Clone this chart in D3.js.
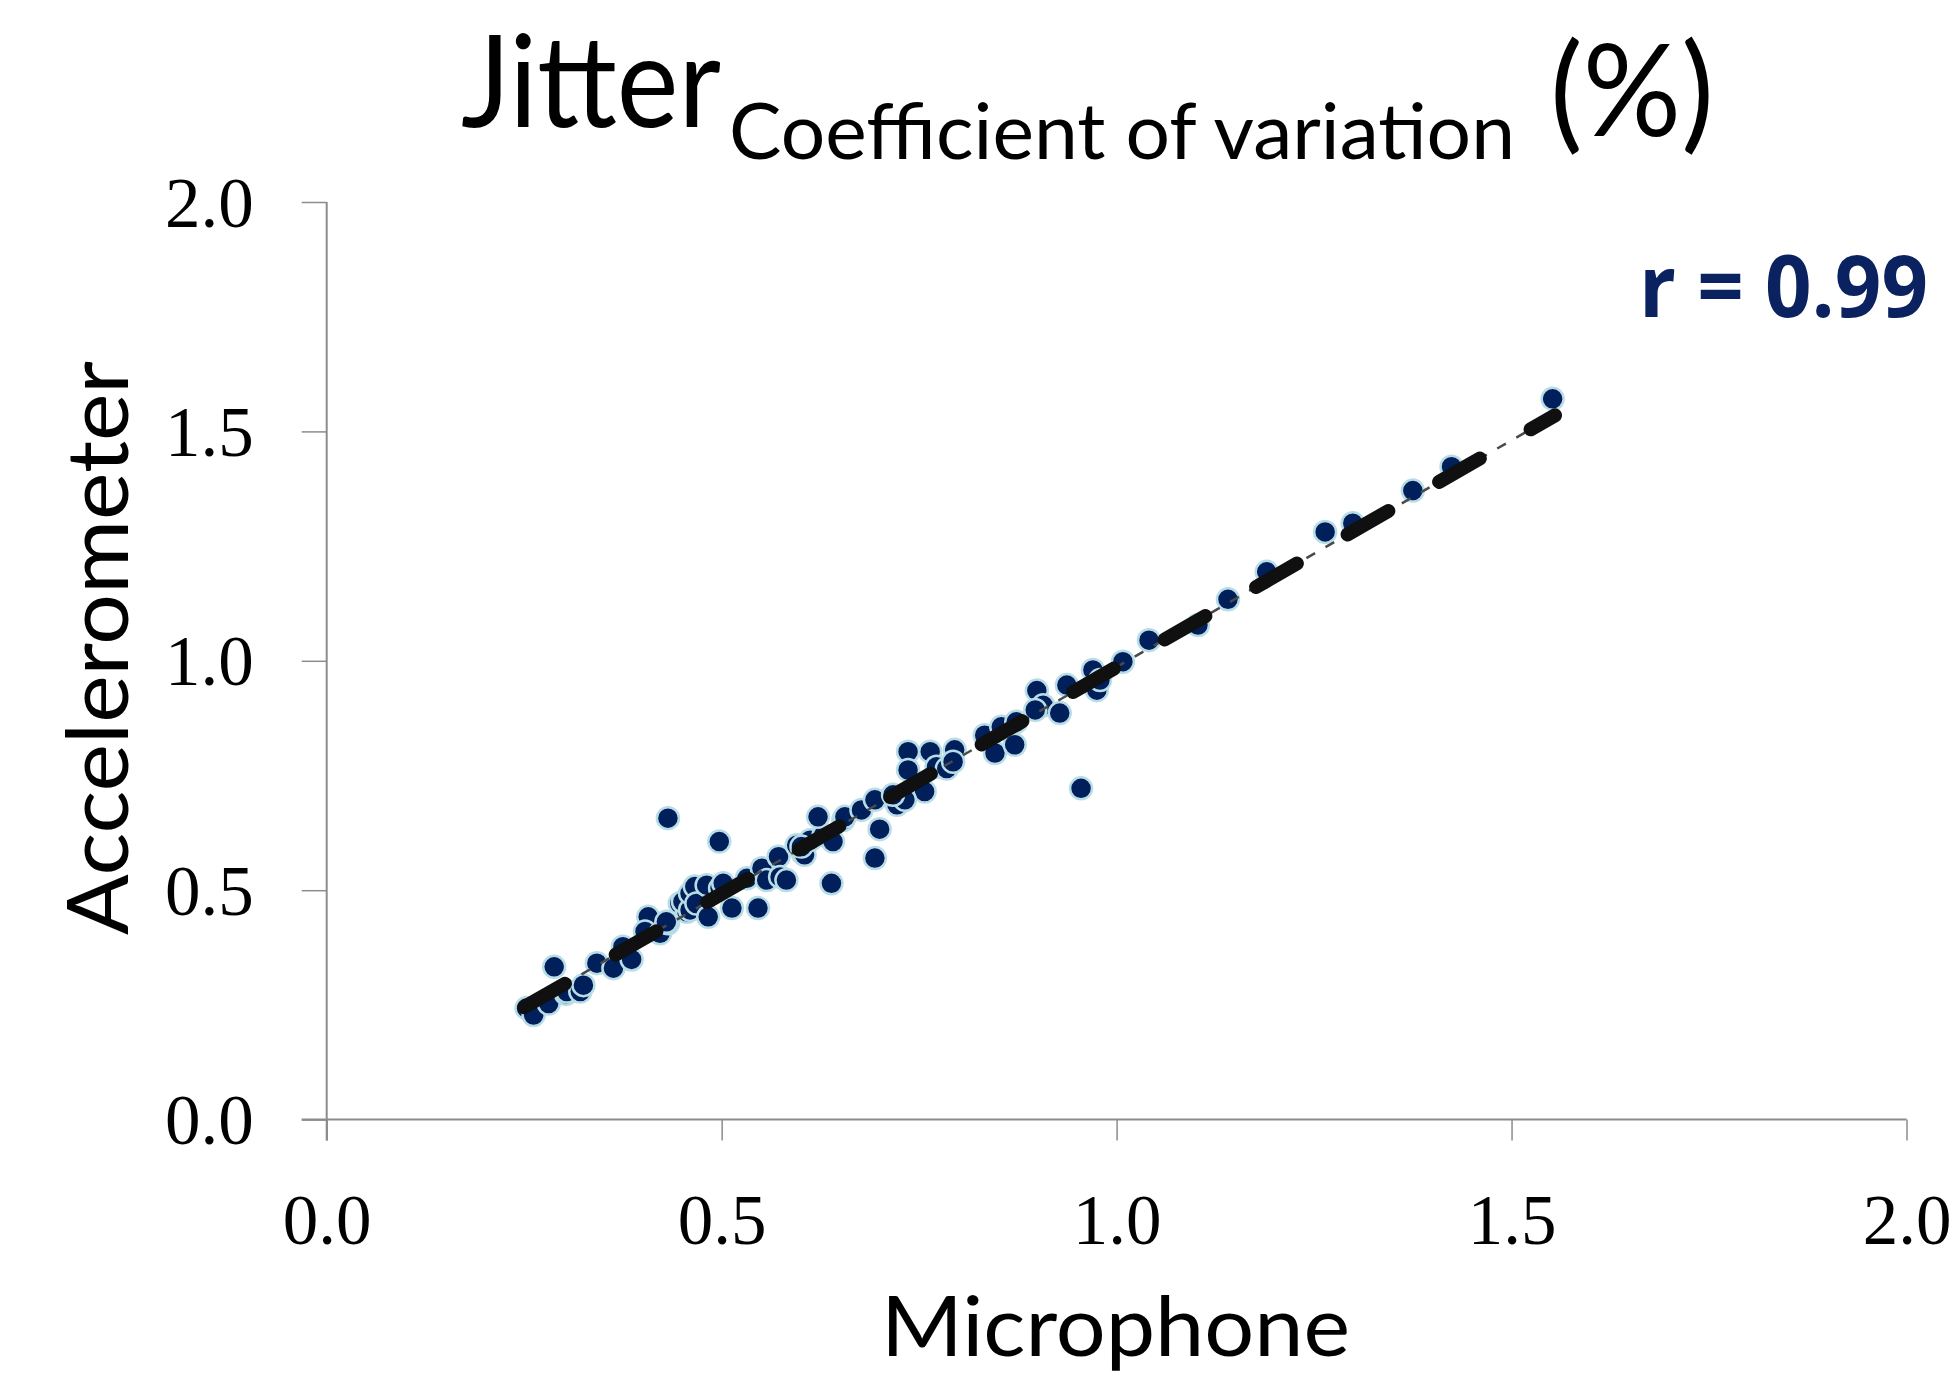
<!DOCTYPE html>
<html>
<head>
<meta charset="utf-8">
<script src="https://cdn.jsdelivr.net/npm/d3@7"></script>
<style>
  html, body { margin: 0; padding: 0; background: #fff; }
  svg { display: block; }
</style>
</head>
<body>
<svg id="chart" width="1955" height="1379"></svg>
<script>
// ---- data ----
const micX = [0.253,0.262,0.281,0.288,0.303,0.304,0.321,0.325,0.342,0.363,0.375,0.386,0.407,0.403,0.422,0.432,0.430,
  0.447,0.456,0.451,0.460,0.460,0.466,0.468,0.481,0.483,0.498,0.502,0.513,0.532,0.546,0.551,0.557,0.572,0.574,0.582,
  0.603,0.605,0.595,0.612,0.629,0.639,0.694,0.432,0.497,0.700,0.955,0.601,0.622,0.641,0.654,0.656,0.677,0.694,0.722,
  0.736,0.764,0.795,0.736,0.772,0.785,0.793,0.757,0.732,0.717,0.833,0.846,0.871,0.854,0.873,0.899,0.907,0.897,0.928,
  0.937,0.970,0.975,0.979,1.008,1.041,1.103,1.141,1.190,1.264,1.299,1.375,1.424,1.552];
const accY = [0.243,0.228,0.253,0.333,0.274,0.279,0.279,0.293,0.341,0.330,0.377,0.349,0.442,0.410,0.406,0.428,0.431,
  0.471,0.453,0.475,0.457,0.493,0.508,0.471,0.511,0.442,0.504,0.515,0.461,0.526,0.461,0.548,0.522,0.573,0.529,0.522,
  0.580,0.577,0.598,0.609,0.620,0.515,0.570,0.657,0.606,0.633,0.722,0.595,0.660,0.606,0.653,0.660,0.675,0.697,0.686,
  0.802,0.802,0.806,0.762,0.769,0.765,0.780,0.715,0.697,0.708,0.838,0.799,0.817,0.856,0.867,0.935,0.903,0.893,0.886,
  0.947,0.980,0.936,0.958,0.998,1.045,1.078,1.134,1.194,1.281,1.300,1.371,1.423,1.571];
const trendX = [0.25, 1.555];
const trendY = [0.245, 1.535];
const tickValues = [0, 0.5, 1.0, 1.5, 2.0];
const tickLabels = ["0.0", "0.5", "1.0", "1.5", "2.0"];
const titleMain = "Jitter";
const titleSub = "Coefficient of variation";
const titleUnit = "(%)";
const xTitle = "Microphone";
const yTitle = "Accelerometer";
const rText = "r = 0.99";

// ---- drawing ----
const svg = d3.select("#chart");
svg.append("rect").attr("width", 1955).attr("height", 1379).attr("fill", "#fff");

const x = d3.scaleLinear().domain([0, 2]).range([326.7, 1906.5]);
const y = d3.scaleLinear().domain([0, 2]).range([1119.6, 202]);

const axisColor = "#8c8c8c";
const serif = "'Liberation Serif', 'DejaVu Serif', serif";
const sans = "Lato, 'Open Sans', sans-serif";

// x axis
const xAxis = svg.append("g").attr("transform", `translate(0,${y(0)})`)
  .call(d3.axisBottom(x).tickValues(tickValues).tickSize(21).tickSizeOuter(0).tickFormat((d, i) => tickLabels[i]));
xAxis.select(".domain").remove();
xAxis.append("line").attr("x1", x(0) - 25).attr("x2", x(2)).attr("y1", 0).attr("y2", 0)
  .attr("stroke", axisColor).attr("stroke-width", 2);
xAxis.selectAll(".tick line").attr("stroke", axisColor).attr("stroke-width", 1.5);
xAxis.selectAll(".tick text").attr("fill", "#000").attr("font-family", serif).attr("font-size", 71)
  .attr("y", 124).attr("dy", 0);

// y axis
const yAxis = svg.append("g").attr("transform", `translate(${x(0)},0)`)
  .call(d3.axisLeft(y).tickValues(tickValues).tickSize(25).tickSizeOuter(0).tickFormat((d, i) => tickLabels[i]));
yAxis.select(".domain").remove();
yAxis.append("line").attr("x1", 0).attr("x2", 0).attr("y1", y(2)).attr("y2", y(0) + 21)
  .attr("stroke", axisColor).attr("stroke-width", 2);
yAxis.selectAll(".tick line").attr("stroke", axisColor).attr("stroke-width", 1.5);
yAxis.selectAll(".tick text").attr("fill", "#000").attr("font-family", serif).attr("font-size", 71)
  .attr("x", -73).attr("dy", 24);

// points
const pts = micX.map((d, i) => ({ x: d, y: accY[i] }));
svg.append("g").selectAll("circle").data(pts).join("circle")
  .attr("cx", d => x(d.x)).attr("cy", d => y(d.y)).attr("r", 11)
  .attr("fill", "#001f5b").attr("stroke", "#b8dde6").attr("stroke-width", 2.5);

// trend lines
const tl = d3.line().x(d => x(d[0])).y(d => y(d[1]));
const tdata = trendX.map((d, i) => [d, trendY[i]]);
svg.append("path").datum(tdata).attr("d", tl).attr("fill", "none")
  .attr("stroke", "#4a4a4a").attr("stroke-width", 2.5).attr("stroke-dasharray", "10 12");
svg.append("path").datum(tdata).attr("d", tl).attr("fill", "none")
  .attr("stroke", "#101010").attr("stroke-width", 14).attr("stroke-linecap", "round")
  .attr("stroke-dasharray", "47 58.5");

// title
svg.append("text").attr("x", 461).attr("y", 127).attr("font-family", sans).attr("font-size", 128)
  .attr("textLength", 260).attr("lengthAdjust", "spacingAndGlyphs").text(titleMain);
svg.append("text").attr("x", 729).attr("y", 159).attr("font-family", sans).attr("font-size", 78)
  .attr("textLength", 786).attr("lengthAdjust", "spacingAndGlyphs").text(titleSub);
svg.append("text").attr("x", 1550).attr("y", 136).attr("font-family", sans).attr("font-size", 128)
  .attr("textLength", 164).attr("lengthAdjust", "spacingAndGlyphs").text(titleUnit);

// axis titles
svg.append("text").attr("x", 881).attr("y", 1356).attr("font-family", sans).attr("font-size", 84)
  .attr("textLength", 469).attr("lengthAdjust", "spacingAndGlyphs").text(xTitle);
svg.append("text").attr("transform", "translate(128,648) rotate(-90)").attr("text-anchor", "middle")
  .attr("font-family", sans).attr("font-size", 86)
  .attr("textLength", 574).attr("lengthAdjust", "spacingAndGlyphs").text(yTitle);

// r annotation
svg.append("text").attr("x", 1639).attr("y", 317).attr("font-family", "'Open Sans', 'Noto Sans', sans-serif")
  .attr("font-weight", "bold").attr("font-size", 86).attr("fill", "#0b2260")
  .attr("textLength", 289).attr("lengthAdjust", "spacingAndGlyphs").text(rText);
</script>
</body>
</html>
